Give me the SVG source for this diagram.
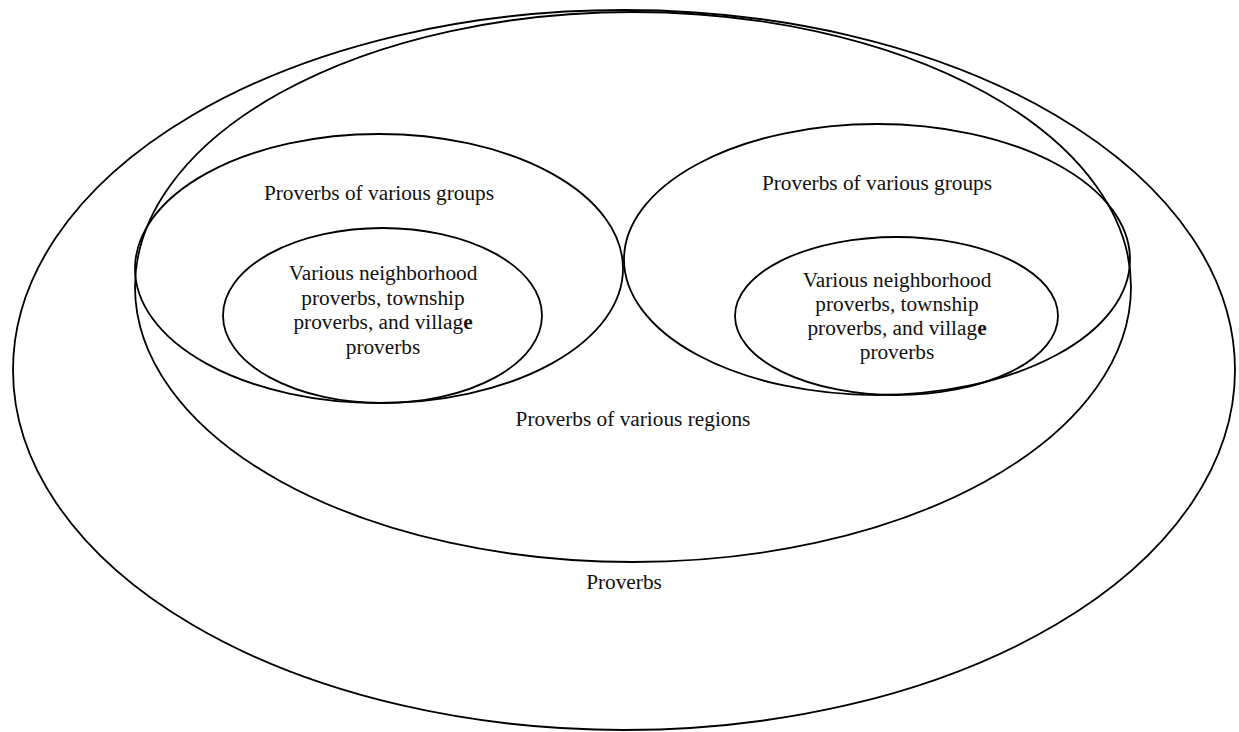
<svg xmlns="http://www.w3.org/2000/svg" width="1239" height="732" viewBox="0 0 1239 732">
<style>
.e{fill:none;stroke:#000;stroke-width:1.8}
.t{font-family:"Liberation Serif","Times New Roman",serif;font-size:21.3px;fill:#111;text-anchor:middle}
.b{font-weight:bold}
</style>
<rect width="1239" height="732" fill="#fff"/>
<g id="proverbs">
<ellipse class="e" cx="624" cy="370" rx="611" ry="360"/>
<text class="t" x="624" y="589">Proverbs</text>
</g>
<g id="regions">
<ellipse class="e" cx="633" cy="287" rx="498" ry="275"/>
<text class="t" x="633" y="426">Proverbs of various regions</text>
</g>
<g id="groups-left">
<ellipse class="e" cx="379" cy="268.5" rx="244" ry="134.5"/>
<text class="t" x="379" y="200">Proverbs of various groups</text>
</g>
<g id="local-left">
<ellipse class="e" cx="382.5" cy="315.5" rx="159.5" ry="87.5"/>
<text class="t" x="383" y="280">Various neighborhood</text>
<text class="t" x="383" y="305">proverbs, township</text>
<text class="t" x="383" y="329">proverbs, and villag<tspan class="b">e</tspan></text>
<text class="t" x="383" y="354">proverbs</text>
</g>
<g id="groups-right">
<ellipse class="e" cx="877" cy="259.5" rx="253" ry="135.5"/>
<text class="t" x="877" y="190">Proverbs of various groups</text>
</g>
<g id="local-right">
<ellipse class="e" cx="896.5" cy="316" rx="161.5" ry="79"/>
<text class="t" x="897" y="287">Various neighborhood</text>
<text class="t" x="897" y="311">proverbs, township</text>
<text class="t" x="897" y="335">proverbs, and villag<tspan class="b">e</tspan></text>
<text class="t" x="897" y="359">proverbs</text>
</g>
<g id="connectors"></g>
</svg>
